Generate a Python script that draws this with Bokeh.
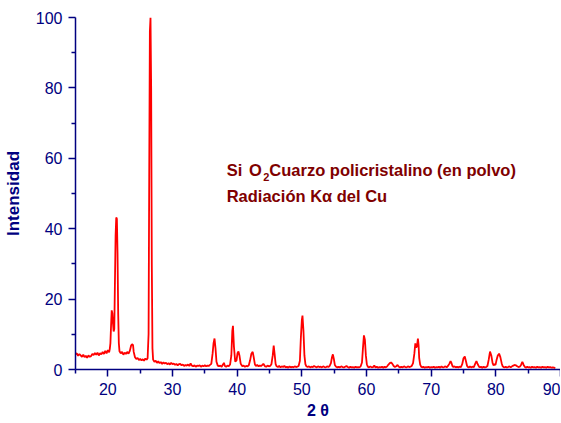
from bokeh.plotting import figure
from bokeh.models import FixedTicker, Label, Range1d
from bokeh.embed import file_html
from bokeh.resources import INLINE

# Diffractogram: 2-theta (deg) and relative intensity
two_theta = [
    15.0, 15.2, 15.4, 15.6, 15.8, 16.0, 16.2, 16.4, 16.6, 16.8, 17.0, 17.2, 17.4, 17.6, 17.8,
    18.0, 18.2, 18.4, 18.6, 18.8, 19.0, 19.2, 19.4, 19.6, 19.8, 20.0, 20.2, 20.3,
    20.4, 20.5, 20.6, 20.7, 20.8, 20.9, 21.0, 21.1, 21.2, 21.3, 21.4, 21.5, 21.6, 21.7, 21.8,
    22.0, 22.2, 22.4, 22.6, 22.8, 23.0, 23.2, 23.4, 23.6, 23.75, 23.9, 24.0, 24.2, 24.4, 24.6,
    24.8, 25.0, 25.2, 25.4, 25.6, 25.8, 26.0, 26.15,
    26.3, 26.4, 26.5, 26.6, 26.7, 26.8, 26.9, 27.0,
    27.2, 27.4, 27.6, 27.8, 28.0, 28.2, 28.4, 28.6, 28.8, 29.0, 29.2, 29.4, 29.6, 29.8, 30.0,
    30.2, 30.4, 30.6, 30.8, 31.0, 31.2, 31.4, 31.6, 31.8, 32.0, 32.2, 32.4, 32.6, 32.8, 33.0,
    33.2, 33.4, 33.6, 33.8, 34.0, 34.2, 34.4, 34.6, 34.8, 35.0, 35.2, 35.4, 35.6, 35.8, 36.0,
    36.2, 36.35, 36.5, 36.65, 36.8, 37.0, 37.2, 37.4, 37.6, 37.8, 37.95, 38.1, 38.3, 38.5, 38.7,
    38.9, 39.1, 39.25, 39.35, 39.5, 39.7, 39.9, 40.05, 40.2, 40.35, 40.55, 40.8, 41.0, 41.2,
    41.4, 41.6, 41.8, 42.0, 42.2, 42.4, 42.55, 42.75, 42.9, 43.1, 43.3, 43.5, 43.7, 43.9, 44.05,
    44.3, 44.5, 44.7, 44.9, 45.1, 45.3, 45.5, 45.65, 45.8, 45.95, 46.1, 46.3, 46.5, 46.7, 46.9,
    47.1, 47.3, 47.5, 47.7, 47.9, 48.1, 48.3, 48.5, 48.7, 48.9, 49.1, 49.3, 49.5, 49.7, 49.85,
    50.0, 50.1, 50.25, 50.4, 50.55, 50.7, 50.9, 51.1, 51.3, 51.5, 51.7, 51.9, 52.1, 52.3, 52.5,
    52.7, 52.9, 53.1, 53.3, 53.5, 53.7, 53.9, 54.1, 54.3, 54.5, 54.65, 54.8, 54.95, 55.1, 55.3,
    55.5, 55.7, 55.9, 56.1, 56.3, 56.5, 56.7, 56.9, 57.1, 57.3, 57.5, 57.7, 57.9, 58.1, 58.3,
    58.5, 58.7, 58.9, 59.1, 59.3, 59.45, 59.6, 59.75, 59.9, 60.05, 60.2, 60.4, 60.6, 60.8, 61.0,
    61.2, 61.4, 61.6, 61.8, 62.0, 62.2, 62.4, 62.6, 62.8, 63.0, 63.2, 63.4, 63.6, 63.8, 64.0,
    64.2, 64.4, 64.6, 64.8, 65.0, 65.2, 65.4, 65.6, 65.8, 66.0, 66.2, 66.4, 66.6, 66.8, 67.0,
    67.2, 67.4, 67.55, 67.7, 67.85, 67.95, 68.05, 68.15, 68.3, 68.45, 68.6, 68.8, 69.0, 69.2,
    69.4, 69.6, 69.8, 70.0, 70.2, 70.4, 70.6, 70.8, 71.0, 71.2, 71.4, 71.6, 71.8, 72.0, 72.2,
    72.4, 72.6, 72.8, 73.0, 73.15, 73.3, 73.45, 73.6, 73.8, 74.0, 74.2, 74.4, 74.6, 74.8, 75.0,
    75.2, 75.4, 75.55, 75.7, 75.85, 76.0, 76.2, 76.4, 76.6, 76.8, 77.0, 77.2, 77.4, 77.55, 77.7,
    77.9, 78.1, 78.3, 78.5, 78.7, 78.9, 79.1, 79.3, 79.5, 79.65, 79.8, 79.95, 80.1, 80.3, 80.5,
    80.7, 80.9, 81.05, 81.2, 81.35, 81.5, 81.7, 81.9, 82.1, 82.3, 82.5, 82.7, 82.9, 83.1, 83.3,
    83.5, 83.7, 83.9, 84.1, 84.3, 84.5, 84.7, 84.85, 85.0, 85.2, 85.4, 85.6, 85.8, 86.0, 86.2,
    86.4, 86.6, 86.8, 87.0, 87.2, 87.4, 87.6, 87.8, 88.0, 88.2, 88.4, 88.6, 88.8, 89.0, 89.2,
    89.4, 89.6, 89.8, 90.0,
]
intensity = [
    4.3, 4.6, 3.9, 4.4, 4.0, 3.6, 4.2, 3.5, 3.9, 3.3, 4.0, 3.6, 3.8, 4.4, 4.1,
    4.7, 4.2, 4.8, 4.0, 4.6, 4.3, 5.0, 4.4, 5.3, 4.6, 5.5, 4.9, 5.8,
    7.5, 12.5, 16.8, 16.0, 13.0, 10.8, 11.5, 25.0, 38.0, 43.2, 42.8, 33.0, 16.0, 7.5, 5.2,
    4.6, 5.0, 4.2, 4.8, 4.4, 5.0, 4.5, 5.3, 6.8, 7.2, 6.9, 5.0, 3.5, 3.0, 3.3,
    2.7, 3.0, 2.6, 2.9, 2.5, 3.1, 2.8, 3.2,
    10.0, 55.0, 96.0, 100.0, 80.0, 30.0, 6.0, 2.8,
    2.2, 2.5, 1.9, 2.3, 1.8, 2.1, 1.6, 2.0, 1.7, 1.9, 1.5, 1.8, 1.4, 1.9, 1.5,
    1.7, 1.3, 1.6, 1.2, 1.5, 1.6, 1.2, 1.4, 1.0, 1.3, 1.1, 1.4, 1.0, 1.7, 1.1,
    0.9, 1.2, 0.8, 1.1, 1.0, 1.2, 0.8, 1.1, 0.9, 1.2, 0.9, 1.1, 1.0, 1.3, 1.6,
    4.5, 7.5, 8.8, 6.0, 2.2, 1.1, 0.9, 1.1, 0.8, 1.4, 1.9, 1.0, 0.8, 1.1, 0.9,
    1.4, 4.0, 11.0, 12.4, 6.5, 2.2, 2.6, 4.6, 5.1, 4.0, 1.6, 0.9, 1.1, 0.8,
    1.0, 0.9, 1.2, 2.6, 4.5, 5.0, 3.6, 1.4, 1.0, 1.3, 0.9, 1.1, 1.0, 1.3, 1.6,
    0.9, 0.8, 1.1, 0.9, 1.0, 1.5, 4.0, 6.8, 4.2, 1.5, 0.9, 0.7, 1.0, 0.6, 0.9,
    0.7, 1.0, 0.6, 0.8, 0.5, 0.9, 0.6, 0.8, 0.6, 0.9, 0.7, 0.8, 1.0, 2.5, 9.0,
    14.0, 15.3, 11.0, 4.0, 1.5, 0.9, 0.7, 0.9, 0.6, 0.8, 0.7, 1.0, 0.8, 0.6, 0.9,
    0.7, 0.8, 0.6, 0.9, 0.7, 0.6, 0.9, 0.7, 1.0, 1.8, 3.4, 4.3, 3.0, 1.3, 0.8,
    0.6, 0.8, 0.6, 0.9, 0.7, 0.6, 0.8, 1.0, 0.7, 0.5, 0.8, 0.6, 0.7, 0.5, 0.8,
    0.6, 0.7, 0.6, 0.9, 2.0, 6.0, 9.7, 8.5, 4.0, 1.5, 0.8, 0.6, 0.9, 0.6, 0.7,
    1.1, 0.6, 0.8, 0.5, 0.7, 0.6, 0.8, 0.5, 0.8, 0.6, 0.9, 1.4, 1.8, 2.0, 1.6,
    1.0, 0.7, 0.9, 1.3, 0.8, 0.6, 0.8, 0.6, 0.9, 0.7, 0.6, 0.9, 0.7, 0.8, 1.0,
    1.8, 4.5, 7.4, 6.2, 7.2, 8.8, 7.0, 3.2, 1.4, 0.8, 0.6, 0.8, 0.5, 0.7,
    0.6, 0.8, 0.5, 0.7, 0.6, 0.8, 0.5, 0.7, 0.6, 0.8, 0.5, 0.9, 0.6, 0.7, 0.9,
    0.6, 1.0, 1.6, 2.4, 1.8, 0.9, 0.7, 0.9, 0.6, 0.8, 0.6, 0.8, 0.7, 1.5, 3.2,
    3.7, 2.2, 1.0, 0.7, 0.6, 0.9, 0.6, 0.8, 0.7, 1.6, 2.4, 1.5, 0.8, 0.6, 0.8,
    0.5, 0.8, 0.6, 0.7, 1.0, 2.8, 5.1, 4.0, 1.8, 1.2, 1.5, 1.3, 2.6, 4.0, 4.5,
    3.5, 1.8, 0.9, 0.7, 0.6, 0.8, 0.6, 0.7, 0.9, 0.6, 0.9, 1.1, 1.3, 1.2, 0.9,
    0.7, 0.8, 1.3, 2.2, 1.3, 0.7, 0.5, 0.8, 0.6, 0.7, 0.5, 0.8, 0.6, 0.7, 0.5,
    0.8, 0.6, 0.7, 0.5, 0.8, 0.6, 0.7, 0.5, 0.8, 0.6, 0.7, 0.5, 0.6, 0.5, 0.4,
]

x_major_ticks = [20, 30, 40, 50, 60, 70, 80, 90]
x_minor_ticks = [15, 25, 35, 45, 55, 65, 75, 85]
y_major_ticks = [0, 20, 40, 60, 80, 100]
y_minor_ticks = [10, 30, 50, 70, 90]

NAVY = "#000080"
DARKRED = "#800000"
FONT = "Liberation Sans"

p = figure(width=560, height=422, output_backend="svg", toolbar_location=None,
           x_range=Range1d(15, 90), y_range=Range1d(0, 100),
           min_border_left=73, min_border_right=0, min_border_top=17,
           min_border_bottom=53)
p.outline_line_color = None
p.grid.visible = False
p.background_fill_color = "white"
p.border_fill_color = "white"

p.line(two_theta, intensity, line_color="#ff0000", line_width=1.8)

p.xaxis.ticker = FixedTicker(ticks=x_major_ticks, minor_ticks=x_minor_ticks)
p.yaxis.ticker = FixedTicker(ticks=y_major_ticks, minor_ticks=y_minor_ticks)

for ax in (p.xaxis[0], p.yaxis[0]):
    ax.axis_line_color = NAVY
    ax.axis_line_width = 1.5
    ax.major_tick_line_color = NAVY
    ax.major_tick_line_width = 1.5
    ax.minor_tick_line_color = NAVY
    ax.minor_tick_line_width = 1.5
    ax.major_tick_out = 7
    ax.major_tick_in = 0
    ax.minor_tick_out = 4
    ax.minor_tick_in = 0
    ax.major_label_text_color = NAVY
    ax.major_label_text_font = FONT
    ax.major_label_text_font_size = "16px"

p.xaxis.major_label_standoff = 6
p.xaxis.axis_label = "2 θ"
p.xaxis.axis_label_text_font = FONT
p.xaxis.axis_label_text_font_style = "bold"
p.xaxis.axis_label_text_font_size = "16px"
p.xaxis.axis_label_text_color = NAVY
p.xaxis.axis_label_standoff = 4

p.yaxis.major_label_standoff = 6
p.yaxis.axis_label = "Intensidad"
p.yaxis.axis_label_text_font = FONT
p.yaxis.axis_label_text_font_style = "bold"
p.yaxis.axis_label_text_font_size = "17px"
p.yaxis.axis_label_text_color = NAVY
p.yaxis.axis_label_standoff = 10

# annotation
ann_style = dict(text_font=FONT, text_font_style="bold", text_color=DARKRED,
                 text_baseline="middle", text_font_size="16.5px")
p.add_layout(Label(x=38.38, y=56.8, text="Si", **ann_style))
p.add_layout(Label(x=41.84, y=56.8, text="O", **ann_style))
p.add_layout(Label(x=44.03, y=54.6, text="2", text_font=FONT, text_font_style="bold",
                   text_color=DARKRED, text_baseline="middle", text_font_size="11px"))
p.add_layout(Label(x=44.97, y=56.8, text="Cuarzo policristalino (en polvo)", **ann_style))
p.add_layout(Label(x=38.38, y=49.15, text="Radiación Kα del Cu", **ann_style))

open("out.html", "w").write(file_html(p, INLINE))
